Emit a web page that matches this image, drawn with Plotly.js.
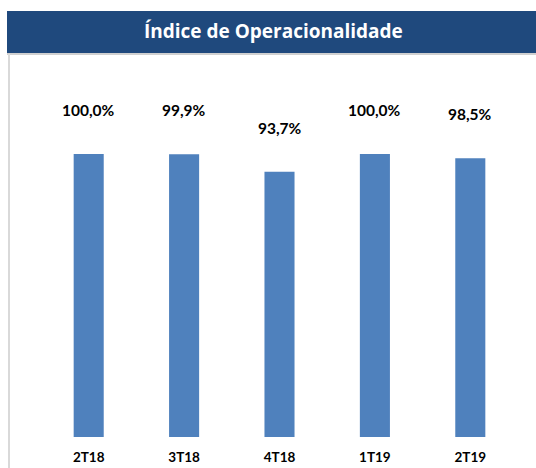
<!DOCTYPE html>
<html>
<head>
<meta charset="utf-8">
<script src="https://cdn.plot.ly/plotly-3.0.1.min.js"></script>
<style>html,body{margin:0;padding:0;background:#fff;}#chart{width:536px;height:468px;}</style>
</head>
<body>
<div id="chart"></div>
<script>
const categories = ["2T18", "3T18", "4T18", "1T19", "2T19"];
const values = [100.0, 99.9, 93.7, 100.0, 98.5];
const labels = ["100,0%", "99,9%", "93,7%", "100,0%", "98,5%"];
const chartTitle = "Índice de Operacionalidade";

const W = 536, H = 468;
const m = {l: 41, r: 18, t: 60, b: 31};
const pw = W - m.l - m.r, ph = H - m.t - m.b;
const px = x => (x - m.l) / pw;
const py = y => (H - m.b - y) / ph;

const trace = {
  type: 'bar',
  x: categories,
  y: values,
  marker: {color: '#4F81BD'},
  hoverinfo: 'none'
};

const annotations = categories.map((c, i) => ({
  x: c, y: values[i], xref: 'x', yref: 'y',
  text: '<b>' + labels[i] + '</b>', showarrow: false,
  yanchor: 'middle', yshift: 44,
  font: {family: 'Lato, "Open Sans", sans-serif', size: 15.5, color: '#000'}
}));
annotations.push({
  x: px(273), y: py(31), xref: 'paper', yref: 'paper',
  text: '<b>' + chartTitle + '</b>', showarrow: false,
  xanchor: 'center', yanchor: 'middle',
  font: {family: '"Open Sans", sans-serif', size: 19, color: '#fff'}
});

const layout = {
  width: W, height: H,
  margin: m,
  paper_bgcolor: '#fff', plot_bgcolor: '#fff',
  showlegend: false,
  bargap: 0.685,
  xaxis: {
    showgrid: false, zeroline: false, showline: false, ticks: '',
    tickfont: {family: 'Lato, "Open Sans", sans-serif', size: 13.5, color: '#000', weight: 'bold'},
    ticklabelstandoff: 10
  },
  yaxis: {
    range: [0, ph / 2.83], showgrid: false, zeroline: false, showline: false,
    showticklabels: false, ticks: ''
  },
  shapes: [
    {type: 'rect', xref: 'paper', yref: 'paper', x0: px(7), x1: px(540), y0: py(53), y1: py(11),
     fillcolor: '#1F497D', line: {width: 0}, layer: 'above'},
    {type: 'line', xref: 'paper', yref: 'paper', x0: px(7), x1: px(540), y0: py(54), y1: py(54),
     line: {color: '#D0D0D0', width: 2}},
    {type: 'line', xref: 'paper', yref: 'paper', x0: px(9), x1: px(9), y0: py(54), y1: py(470),
     line: {color: '#D9D9D9', width: 2}}
  ],
  annotations: annotations
};

Plotly.newPlot('chart', [trace], layout, {displayModeBar: false, staticPlot: true});
</script>
</body>
</html>
